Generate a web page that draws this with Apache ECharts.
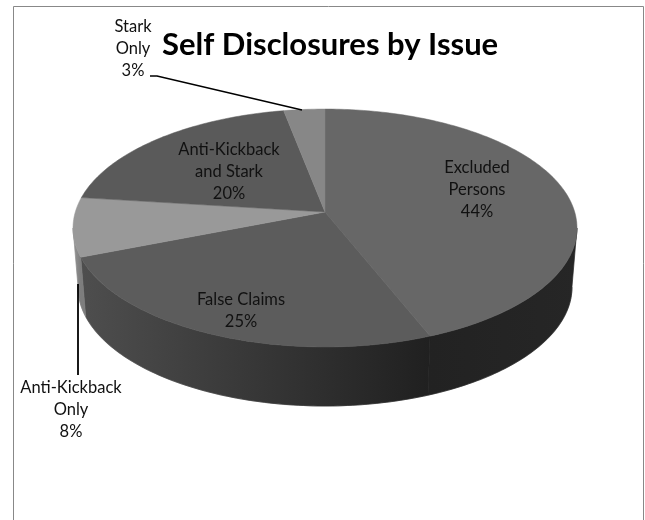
<!DOCTYPE html>
<html>
<head>
<meta charset="utf-8">
<style>html,body{margin:0;padding:0;background:#fff}#chart{width:645px;height:520px}</style>
<script src="https://cdn.jsdelivr.net/npm/echarts@6/dist/echarts.min.js"></script>
</head>
<body>
<div id="chart"></div>
<script>
// Share of self disclosures per issue, clockwise from twelve o'clock.
const categories = ['Excluded\nPersons', 'False Claims', 'Anti-Kickback\nOnly', 'Anti-Kickback\nand Stark', 'Stark\nOnly'];
const shares = [44, 25, 8, 20, 3];

// Face shades, and the start/end shades of each slice's outer wall.
const faceShades = ['#676767', '#5c5c5c', '#999999', '#5a5a5a', '#878787'];
const wallShades = [[38, 34], [32, 78], [125, 150], [60, 60], [90, 90]];

// Where each label's centre sits on the canvas.
const labelAnchors = [[477, 190], [241, 311], [71, 410], [229, 172], [133, 48.5]];

// Perspective disc: a tilted circle seen from the front.
const hub = { x: 325, y: 212 };
const persp = 0.1345, spanX = 249.7, spanY = 116.8;
const drop = 59, baseShrink = 0.98;

// Rim angles where the disc is widest; the wall is visible between them.
const wallStart = Math.acos(-persp) * 180 / Math.PI;
const wallEnd = 360 - wallStart;

function project(deg) {
  const r = deg * Math.PI / 180;
  const x = Math.sin(r), y = -Math.cos(r);
  const w = 1 - persp * y;
  return [hub.x + spanX * x / w, hub.y + spanY * y / w];
}
function lower(p) {
  return [hub.x + (p[0] - hub.x) * baseShrink, p[1] + drop];
}
function sliceRange(index) {
  let before = 0;
  for (let i = 0; i < index; i++) before += shares[i];
  return [before * 3.6, (before + shares[index]) * 3.6];
}
function grey(v) {
  const h = Math.round(v).toString(16).padStart(2, '0');
  return '#' + h + h + h;
}

// Outer wall: one band along the rim with a sideways shade across the slice,
// plus a pale hairline along the bottom edge.
function renderWall(params, api) {
  const i = params.dataIndex;
  const [a, b] = sliceRange(i);
  const from = Math.max(a, wallStart), to = Math.min(b, wallEnd);
  if (to <= from) return { type: 'group', children: [] };
  const rim = [];
  for (let d = from; d < to; d += 1) rim.push(project(d));
  rim.push(project(to));
  const floor = rim.map(lower);
  const x0 = project(from)[0], x1 = project(to)[0];
  const shade = new echarts.graphic.LinearGradient(x0, 0, x1, 0, [
    { offset: 0, color: grey(wallShades[i][0]) },
    { offset: 1, color: grey(wallShades[i][1]) }
  ], true);
  return {
    type: 'group',
    children: [
      {
        type: 'polyline',
        shape: { points: floor },
        style: { stroke: '#a8a8a8', lineWidth: 1.2, fill: null }
      },
      {
        type: 'polygon',
        shape: { points: rim.concat(floor.slice().reverse()) },
        style: { fill: shade, stroke: shade, lineWidth: 0.7 }
      }
    ]
  };
}

// Top face of a slice with its label.
function renderFace(params, api) {
  const i = params.dataIndex;
  const [a, b] = sliceRange(i);
  const points = [[hub.x, hub.y]];
  for (let d = a; d < b; d += 1) points.push(project(d));
  points.push(project(b));
  return {
    type: 'group',
    children: [
      {
        type: 'polygon',
        shape: { points },
        style: { fill: faceShades[i], stroke: faceShades[i], lineWidth: 0.5 }
      },
      {
        type: 'text',
        z2: 10,
        style: {
          x: labelAnchors[i][0],
          y: labelAnchors[i][1],
          text: categories[i] + '\n' + api.value(0) + '%',
          align: 'center',
          verticalAlign: 'middle',
          fill: '#111',
          font: '16.5px Lato',
          lineHeight: 22
        }
      }
    ]
  };
}

const chart = echarts.init(document.getElementById('chart'), null, { renderer: 'canvas' });
chart.setOption({
  animation: false,
  backgroundColor: '#fff',
  title: {
    text: 'Self Disclosures by Issue',
    left: 157,
    top: 24,
    textStyle: { fontFamily: 'Lato', fontWeight: 'bold', fontSize: 31, color: '#000' }
  },
  graphic: [
    {
      type: 'polyline',
      silent: true,
      shape: { points: [[13.5, 522], [13.5, 6.5], [643.5, 6.5], [643.5, 522]] },
      style: { stroke: '#888', lineWidth: 1, fill: null }
    },
    {
      type: 'polyline',
      z: 20,
      silent: true,
      shape: { points: [[150, 76], [157, 76], [302, 110]] },
      style: { stroke: '#000', lineWidth: 1.4, fill: null }
    },
    {
      type: 'line',
      z: 20,
      silent: true,
      shape: { x1: 78, y1: 284, x2: 78, y2: 375 },
      style: { stroke: '#000', lineWidth: 1.8 }
    }
  ],
  series: [
    { type: 'custom', coordinateSystem: 'none', z: 2, silent: true, renderItem: renderWall, data: shares.map(v => [v]) },
    { type: 'custom', coordinateSystem: 'none', z: 3, silent: true, renderItem: renderFace, data: shares.map(v => [v]) }
  ]
});
</script>
</body>
</html>
